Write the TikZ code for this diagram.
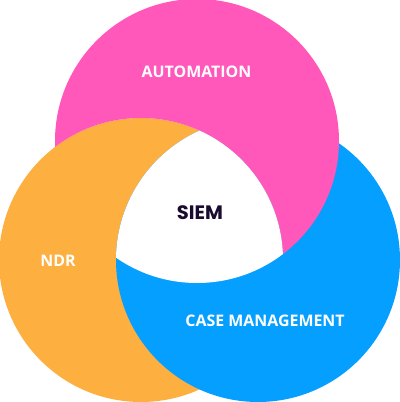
\documentclass[tikz,border=0pt]{standalone}
\usepackage{fontspec}
\setmainfont{Open Sans}
\newfontfamily\siemfont{Poppins}
\definecolor{cpink}{RGB}{255,87,186}
\definecolor{corange}{RGB}{253,175,64}
\definecolor{cblue}{RGB}{4,159,255}
\definecolor{cdark}{RGB}{27,11,47}
\tikzset{
  lbl/.style={text=white,font=\fontsize{16}{19}\selectfont\bfseries,inner sep=0pt},
  siemlbl/.style={text=cdark,font=\siemfont\fontsize{19.5}{22}\selectfont\bfseries,inner sep=0pt}
}
\begin{document}
\begin{tikzpicture}[x=1bp,y=-1bp]
\useasboundingbox (0,0) rectangle (400,402);
\def\R{142}
\coordinate (P) at (197,141);
\coordinate (O) at (141,260);
\coordinate (B) at (258,260);
\fill[corange] (O) circle[radius=\R];
\fill[cblue] (B) circle[radius=\R];
\begin{scope}[even odd rule]
  \clip (-50,-50) rectangle (450,450) (O) circle[radius=\R];
  \fill[cpink] (P) circle[radius=\R];
\end{scope}
\begin{scope}
  \clip (O) circle[radius=\R];
  \clip (P) circle[radius=\R];
  \fill[white] (B) circle[radius=\R];
\end{scope}
\node[lbl] (auto) at (196.5,72) {AUTOMATION};
\node[lbl] (ndr) at (58,261) {NDR};
\node[lbl] (case) at (265,321) {CASE MANAGEMENT};
\node[siemlbl] (siem) at (200,213) {SIEM};
\end{tikzpicture}
\end{document}
